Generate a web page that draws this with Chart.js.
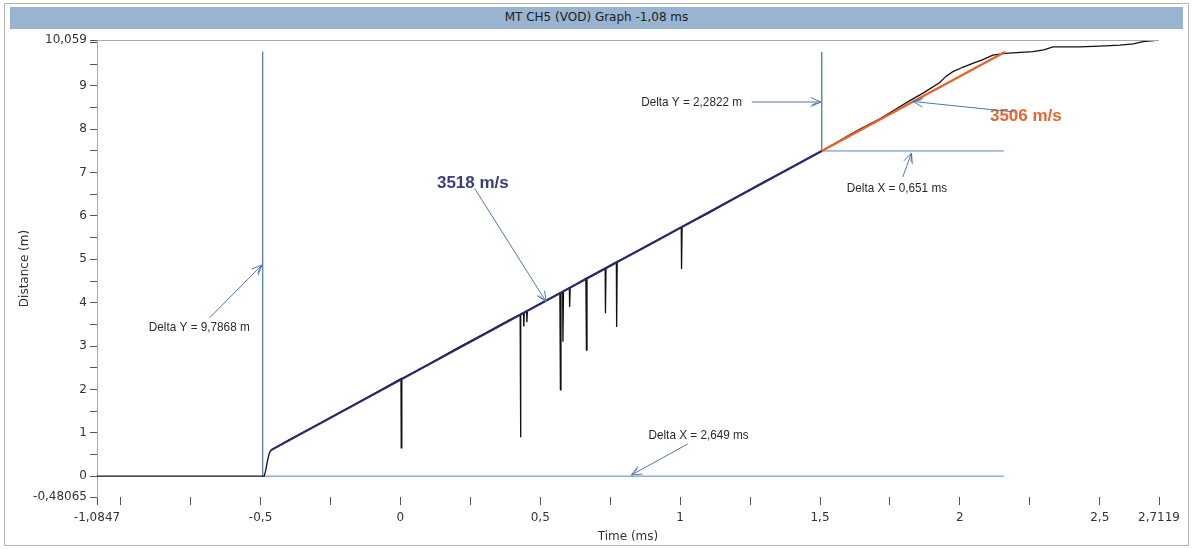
<!DOCTYPE html>
<html>
<head>
<meta charset="utf-8">
<script src="https://cdn.jsdelivr.net/npm/chart.js@4/dist/chart.umd.min.js"></script>
<style>
    html, body { margin: 0; padding: 0; background: #fff; }
    #wrap { position: relative; width: 1200px; height: 549px; overflow: hidden; }
    #frame {
        position: absolute; left: 4px; top: 3px; width: 1183px; height: 541px;
        border: 1px solid #b4b4b4;
    }
    #titlebar {
        position: absolute; left: 10px; top: 7px; width: 1173px; height: 22px;
        background: #98b4d1; color: #1c1c1c;
        font: 12px "DejaVu Sans", sans-serif; line-height: 21px; text-align: center;
    }
    #vod { position: absolute; left: 0; top: 0; }
</style>
</head>
<body>
<div id="wrap">
    <div id="frame"></div>
    <div id="titlebar">MT CH5 (VOD) Graph -1,08 ms</div>
    <canvas id="vod" width="1200" height="549"></canvas>
</div>
<script>
// axis ranges and ticks (ms / m)
var xMin = -1.0847, xMax = 2.7119;
var yMin = -0.48065, yMax = 10.059;
var xLabelTicks = [-1.0847, -0.5, 0, 0.5, 1, 1.5, 2, 2.5, 2.7119];
var xMinorTicks = [-1, -0.75, -0.25, 0.25, 0.75, 1.25, 1.75, 2.25];
var yLabelTicks = [-0.48065, 0, 1, 2, 3, 4, 5, 6, 7, 8, 9, 10.059];
var yMinorTicks = [0.5, 1.5, 2.5, 3.5, 4.5, 5.5, 6.5, 7.5, 8.5, 9.5, 10];

// raw probe signal
var rawTime = [-1.0847, -0.487, -0.482, -0.476, -0.470, -0.466, -0.460, -0.40, -0.30, -0.20, -0.10, -0.02,
    0.002, 0.003, 0.005, 0.10, 0.20, 0.30, 0.40, 0.428, 0.429, 0.431, 0.440, 0.441, 0.443, 0.451, 0.452, 0.454,
    0.50, 0.570, 0.572, 0.574, 0.580, 0.581, 0.583, 0.604, 0.605, 0.607, 0.663, 0.665, 0.667, 0.732, 0.733, 0.735,
    0.772, 0.773, 0.775, 0.90, 1.004, 1.005, 1.007, 1.10, 1.20, 1.30, 1.40, 1.506,
    1.55, 1.606, 1.65, 1.714, 1.76, 1.821, 1.87, 1.928, 1.95, 1.975, 2.01, 2.046, 2.08, 2.118, 2.161,
    2.261, 2.30, 2.333, 2.429, 2.50, 2.572, 2.62, 2.655, 2.7119];
var rawDist = [0, 0, 0.12, 0.33, 0.50, 0.57, 0.61, 0.83, 1.18, 1.53, 1.88, 2.17,
    2.25, 0.65, 2.25, 2.58, 2.94, 3.29, 3.64, 3.73, 0.90, 3.74, 3.77, 3.45, 3.78, 3.81, 3.55, 3.82,
    3.98, 4.22, 1.99, 4.23, 4.25, 3.10, 4.26, 4.34, 3.90, 4.35, 4.56, 2.91, 4.57, 4.80, 3.76, 4.81,
    4.94, 3.44, 4.95, 5.37, 5.74, 4.78, 5.75, 6.06, 6.43, 6.79, 7.13, 7.50,
    7.66, 7.87, 8.03, 8.24, 8.42, 8.66, 8.84, 9.08, 9.22, 9.33, 9.43, 9.52, 9.60, 9.71, 9.75,
    9.79, 9.83, 9.90, 9.90, 9.92, 9.94, 9.97, 10.02, 10.059];

// velocity fits
var fit1Time = [-0.4626, 1.506];
var fit1Dist = [0.6, 7.5];
var fit2Time = [1.506, 2.161];
var fit2Dist = [7.5, 9.782];

// delta cursors (L shapes)
var cursor1Time = [-0.4925, -0.4925, 2.157];
var cursor1Dist = [9.7868, 0, 0];
var cursor2Time = [1.506, 1.506, 2.157];
var cursor2Dist = [9.7822, 7.5, 7.5];

var labels = ["3518 m/s", "Delta Y = 9,7868 m", "Delta X = 2,649 ms", "Delta Y = 2,2822 m", "Delta X = 0,651 ms", "3506 m/s"];
var labelAt = [[0.259, 6.761], [-0.719, 3.424], [1.066, 0.949], [1.041, 8.629], [1.775, 6.646], [2.236, 8.306]];
var arrowFrom = [[0.265, 6.639], [-0.683, 3.647], [1.027, 0.742], [1.256, 8.629], [1.796, 6.899], [2.197, 8.398]];
var arrowTo = [[0.521, 4.024], [-0.495, 4.870], [0.826, 0.027], [1.503, 8.629], [1.827, 7.453], [1.832, 8.641]];

function pts(xs, ys) {
    return xs.map(function (x, i) { return { x: x, y: ys[i] }; });
}

function fmt(v) {
    return String(v).replace('.', ',');
}

function isLabel(list, v) {
    return list.some(function (t) { return Math.abs(t - v) < 1e-6; });
}

function tickList(a, b) {
    return a.concat(b).sort(function (p, q) { return p - q; }).map(function (v) { return { value: v }; });
}

// narrow = horizontal squeeze to mimic the condensed label font
var labelStyle = [
    { font: 'bold 17px "Liberation Sans"', color: '#3b3e7a', narrow: 1 },
    { font: '13.5px "Liberation Sans"', color: '#2a2a2a', narrow: 0.87 },
    { font: '13.5px "Liberation Sans"', color: '#2a2a2a', narrow: 0.87 },
    { font: '13.5px "Liberation Sans"', color: '#2a2a2a', narrow: 0.87 },
    { font: '13.5px "Liberation Sans"', color: '#2a2a2a', narrow: 0.87 },
    { font: 'bold 17px "Liberation Sans"', color: '#e8652f', narrow: 1 }
];

var annotate = {
    id: 'annotate',
    afterDatasetsDraw: function (chart) {
        var ctx = chart.ctx, xs = chart.scales.x, ys = chart.scales.y, a = chart.chartArea;
        ctx.save();
        ctx.strokeStyle = '#a9a9a9';
        ctx.lineWidth = 1;
        ctx.beginPath();
        ctx.moveTo(a.left, a.top + 0.5);
        ctx.lineTo(a.right, a.top + 0.5);
        ctx.stroke();

        ctx.textAlign = 'center';
        ctx.textBaseline = 'middle';
        labels.forEach(function (txt, i) {
            var st = labelStyle[i];
            ctx.save();
            ctx.translate(xs.getPixelForValue(labelAt[i][0]), ys.getPixelForValue(labelAt[i][1]));
            ctx.scale(st.narrow, 1);
            ctx.font = st.font;
            ctx.fillStyle = st.color;
            ctx.fillText(txt, 0, 0);
            ctx.restore();
        });

        ctx.strokeStyle = '#5176aa';
        ctx.lineWidth = 1;
        arrowFrom.forEach(function (f, i) {
            var x0 = xs.getPixelForValue(f[0]), y0 = ys.getPixelForValue(f[1]);
            var x1 = xs.getPixelForValue(arrowTo[i][0]), y1 = ys.getPixelForValue(arrowTo[i][1]);
            var ang = Math.atan2(y1 - y0, x1 - x0), len = 11, spread = 0.42;
            ctx.beginPath();
            ctx.moveTo(x0, y0);
            ctx.lineTo(x1, y1);
            ctx.moveTo(x1 - len * Math.cos(ang - spread), y1 - len * Math.sin(ang - spread));
            ctx.lineTo(x1, y1);
            ctx.lineTo(x1 - len * Math.cos(ang + spread), y1 - len * Math.sin(ang + spread));
            ctx.moveTo(x1 - (len - 2) * Math.cos(ang - spread * 0.7), y1 - (len - 2) * Math.sin(ang - spread * 0.7));
            ctx.lineTo(x1, y1);
            ctx.stroke();
        });
        ctx.restore();
    }
};

new Chart(document.getElementById('vod'), {
    type: 'line',
    data: {
        datasets: [
            { label: 'Cursor 1', data: pts(cursor1Time, cursor1Dist), borderColor: '#5b84ba', borderWidth: 1, order: 5 },
            { label: 'Cursor 2', data: pts(cursor2Time, cursor2Dist), borderColor: '#5b84ba', borderWidth: 1, order: 4 },
            { label: 'Raw', data: pts(rawTime, rawDist), borderColor: '#111111', borderWidth: 1.3, order: 3 },
            { label: '3518 m/s', data: pts(fit1Time, fit1Dist), borderColor: '#272a6c', borderWidth: 2.2, order: 2 },
            { label: '3506 m/s', data: pts(fit2Time, fit2Dist), borderColor: '#e8602a', borderWidth: 2.4, order: 1 }
        ]
    },
    options: {
        responsive: false,
        animation: false,
        devicePixelRatio: 1,
        layout: { padding: { left: 10, right: 41, top: 40, bottom: 3 } },
        elements: { point: { radius: 0 }, line: { tension: 0, fill: false } },
        plugins: { legend: { display: false }, tooltip: { enabled: false } },
        scales: {
            x: {
                type: 'linear',
                min: xMin,
                max: xMax,
                afterBuildTicks: function (scale) { scale.ticks = tickList(xLabelTicks, xMinorTicks); },
                afterFit: function (scale) { scale.height = 49; },
                ticks: {
                    autoSkip: false,
                    maxRotation: 0,
                    minRotation: 0,
                    padding: 6,
                    color: '#333',
                    font: { family: 'DejaVu Sans', size: 12 },
                    callback: function (v) { return isLabel(xLabelTicks, v) ? fmt(v) : ''; }
                },
                grid: { drawOnChartArea: false, drawTicks: true, tickLength: 8, tickColor: '#555' },
                border: { display: false },
                title: {
                    display: true,
                    text: 'Time (ms)',
                    color: '#333',
                    font: { family: 'DejaVu Sans', size: 12 },
                    padding: { top: 0, bottom: 2 }
                }
            },
            y: {
                type: 'linear',
                min: yMin,
                max: yMax,
                afterBuildTicks: function (scale) { scale.ticks = tickList(yLabelTicks, yMinorTicks); },
                afterFit: function (scale) { scale.width = 87; },
                ticks: {
                    autoSkip: false,
                    padding: 3,
                    color: '#333',
                    font: { family: 'DejaVu Sans', size: 12 },
                    callback: function (v) { return isLabel(yLabelTicks, v) ? fmt(v) : ''; }
                },
                grid: { drawOnChartArea: false, drawTicks: true, tickLength: 7, tickColor: '#555' },
                border: { display: true, color: '#a9a9a9' },
                title: {
                    display: true,
                    text: 'Distance (m)',
                    color: '#333',
                    font: { family: 'DejaVu Sans', size: 12 },
                    padding: { top: 8, bottom: 0 }
                }
            }
        }
    },
    plugins: [annotate]
});
</script>
</body>
</html>
